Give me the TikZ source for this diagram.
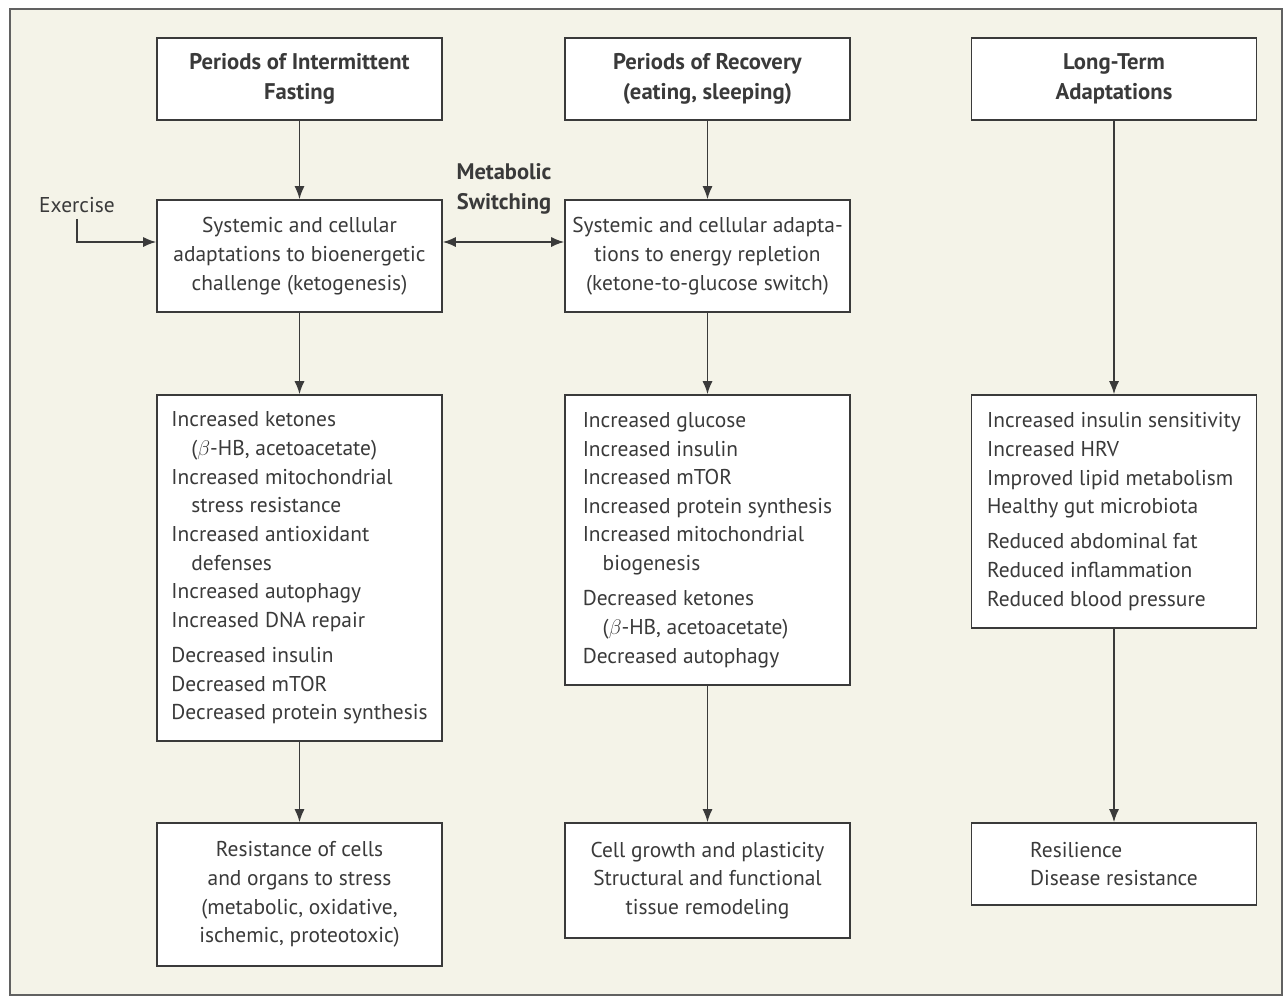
\documentclass[tikz,border=0pt]{standalone}
\usepackage{fontspec}
\setmainfont{PT Sans}
\usetikzlibrary{arrows.meta, positioning}
\definecolor{bgpaper}{RGB}{244,243,232}
\definecolor{inkgray}{RGB}{58,58,58}

\begin{document}
\begin{tikzpicture}[x=0.02cm, y=-0.02cm,
    box/.style={draw=inkgray, line width=0.9pt, fill=white, minimum width=5.7cm, align=center, text=inkgray, font={\fontsize{12.2}{16.3}\selectfont}},
    head/.style={box, minimum height=1.64cm, font={\fontsize{12.9}{17}\selectfont\bfseries}},
    list/.style={box, align=left},
    link/.style={draw=inkgray, line width=0.9pt, -{Latex[length=2.6mm, width=2mm]}}
]
    \useasboundingbox (0,0) rectangle (1286,997);
    \draw[fill=bgpaper, draw=inkgray!80, line width=1pt] (10,9) rectangle (1282,995);

    % column headers
    \node[head] (fast) at (299.5,79) {Periods of Intermittent\\Fasting};
    \node[head] (recov) at (707.5,79) {Periods of Recovery\\(eating, sleeping)};
    \node[head] (longterm) at (1114,79) {Long-Term\\Adaptations};

    % adaptations
    \node[box, minimum height=2.24cm, font={\fontsize{12.2}{16.6}\selectfont}] (fastadapt) at (299.5,256) {Systemic and cellular\\adaptations to bioenergetic\\challenge (ketogenesis)};
    \node[box, minimum height=2.24cm, font={\fontsize{12.2}{16.6}\selectfont}] (recovadapt) at (707.5,256) {Systemic and cellular adapta-\\tions to energy repletion\\(ketone-to-glucose switch)};

    % lists
    \node[list, minimum height=6.92cm] (fastlist) at (299.5,568) {Increased ketones\\
        \hspace*{0.4cm}($\beta$-HB, acetoacetate)\\
        Increased mitochondrial\\
        \hspace*{0.4cm}stress resistance\\
        Increased antioxidant\\
        \hspace*{0.4cm}defenses\\
        Increased autophagy\\
        Increased DNA repair\\[3.7pt]
        Decreased insulin\\
        Decreased mTOR\\
        Decreased protein synthesis};
    \node[list, minimum height=5.8cm] (recovlist) at (707.5,540) {Increased glucose\\
        Increased insulin\\
        Increased mTOR\\
        Increased protein synthesis\\
        Increased mitochondrial\\
        \hspace*{0.4cm}biogenesis\\[3.7pt]
        Decreased ketones\\
        \hspace*{0.4cm}($\beta$-HB, acetoacetate)\\
        Decreased autophagy};
    \node[list, minimum height=4.66cm] (longlist) at (1114,511.5) {Increased insulin sensitivity\\
        Increased HRV\\
        Improved lipid metabolism\\
        Healthy gut microbiota\\[3.7pt]
        Reduced abdominal fat\\
        Reduced inflammation\\
        Reduced blood pressure};

    % outcomes
    \node[box, minimum height=2.86cm] (fastout) at (299.5,894.5) {Resistance of cells\\and organs to stress\\(metabolic, oxidative,\\ischemic, proteotoxic)};
    \node[box, minimum height=2.3cm] (recovout) at (707.5,880.5) {Cell growth and plasticity\\Structural and functional\\tissue remodeling};
    \node[list, minimum height=1.64cm] (longout) at (1114,864) {Resilience\\Disease resistance};

    % side labels
    \node[text=inkgray, font={\fontsize{12.2}{15}\selectfont}] (exercise) at (77,205) {Exercise};
    \node[text=inkgray, align=center, font={\fontsize{12.8}{17}\selectfont\bfseries}] (switching) at (504,189) {Metabolic\\Switching};

    % connectors
    \draw[link] (fast) -- (fastadapt);
    \draw[link] (fastadapt) -- (fastlist);
    \draw[link] (fastlist) -- (fastout);
    \draw[link] (recov) -- (recovadapt);
    \draw[link] (recovadapt) -- (recovlist);
    \draw[link] (recovlist) -- (recovout);
    \draw[link] (longterm) -- (longlist);
    \draw[link] (longlist) -- (longout);
    \draw[link] (exercise.south) |- ([yshift=0.28cm]fastadapt.west);
    \draw[link, {Latex[length=2.6mm, width=2mm]}-{Latex[length=2.6mm, width=2mm]}] ([yshift=0.28cm]fastadapt.east) -- ([yshift=0.28cm]recovadapt.west);
\end{tikzpicture}
\end{document}
